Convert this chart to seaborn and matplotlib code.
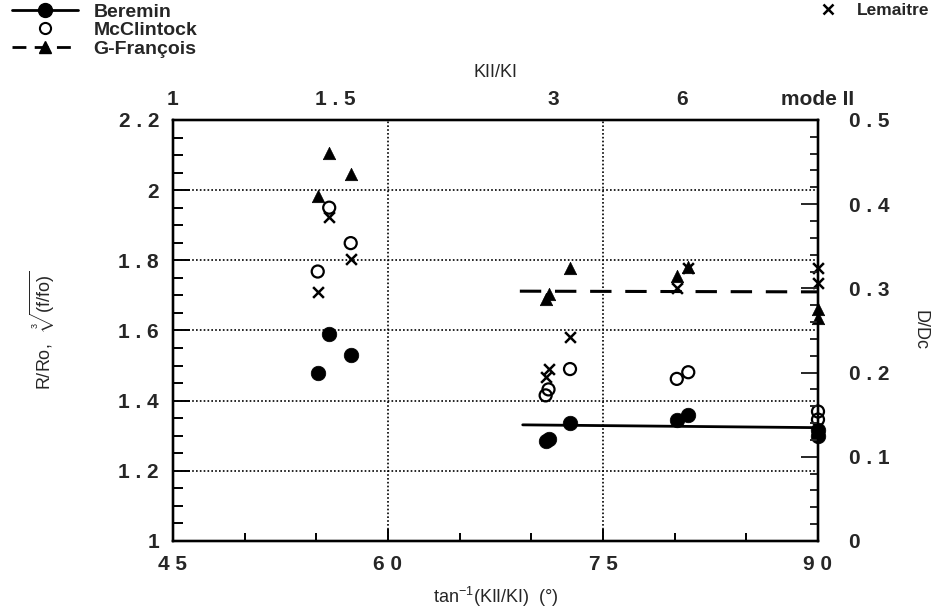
import numpy as np
import seaborn as sns
import matplotlib.pyplot as plt
from matplotlib.lines import Line2D
from matplotlib.ticker import MultipleLocator

# tan^-1(KII/KI) in degrees, R/Ro (or cube root of f/fo)
beremin_x = [55.1, 55.9, 57.4, 71.05, 71.2, 72.7, 80.15, 80.95, 90.0, 90.0]
beremin_y = [1.48, 1.59, 1.53, 1.285, 1.29, 1.335, 1.345, 1.36, 1.317, 1.298]

mcclintock_x = [55.1, 55.9, 57.4, 71.0, 71.2, 72.7, 80.15, 80.95, 90.0, 90.0]
mcclintock_y = [1.768, 1.95, 1.849, 1.415, 1.432, 1.49, 1.462, 1.481, 1.369, 1.346]

francois_x = [55.1, 55.9, 57.4, 71.05, 71.2, 72.7, 80.15, 80.95, 90.0, 90.0]
francois_y = [1.982, 2.105, 2.045, 1.69, 1.705, 1.779, 1.755, 1.78, 1.66, 1.636]

lemaitre_x = [55.1, 55.9, 57.4, 71.0, 71.2, 72.7, 80.15, 80.95, 90.0, 90.0]
lemaitre_y = [1.709, 1.922, 1.803, 1.467, 1.49, 1.582, 1.722, 1.779, 1.779, 1.736]

# D/Dc levels drawn as lines (in left-axis units)
beremin_line_x = [69.4, 90.0]
beremin_line_y = [1.331, 1.323]
francois_line_x = [69.2, 90.0]
francois_line_y = [1.712, 1.71]

# top axis: KII/KI ratios
ratio_values = [1.0, 1.5, 3.0, 6.0]
ratio_labels = ["1", "1 . 5", "3", "6", "mode II"]

bottom_ticks = [45, 60, 75, 90]
bottom_labels = ["4 5", "6 0", "7 5", "9 0"]
left_ticks = [1.0, 1.2, 1.4, 1.6, 1.8, 2.0, 2.2]
left_labels = ["1", "1 . 2", "1 . 4", "1 . 6", "1 . 8", "2", "2 . 2"]
right_ticks = [0, 0.1, 0.2, 0.3, 0.4, 0.5]
right_labels = ["0", "0 . 1", "0 . 2", "0 . 3", "0 . 4", "0 . 5"]

sns.set_style("ticks")
plt.rcParams["font.family"] = ["Liberation Sans", "DejaVu Sans"]
plt.rcParams["mathtext.fontset"] = "custom"
plt.rcParams["mathtext.rm"] = "Liberation Sans"
plt.rcParams["mathtext.it"] = "Liberation Sans"
plt.rcParams["axes.linewidth"] = 1.6

fig = plt.figure(figsize=(9.4, 6.13), dpi=100)
ax = fig.add_axes([0.184, 0.1175, 0.6862, 0.6868])

# dotted grid
ax.grid(True, which="major", color="black", linestyle=(0, (1, 1.3)), linewidth=1.2)

# trend lines
sns.lineplot(x=beremin_line_x, y=beremin_line_y, ax=ax, color="black", linewidth=2)
sns.lineplot(x=francois_line_x, y=francois_line_y, ax=ax, color="black",
             linewidth=2.2, linestyle=(0, (7, 4.5)))

# markers (points at 90 sit on the right spine)
sns.scatterplot(x=beremin_x, y=beremin_y, ax=ax, marker="o", s=110,
                color="black", edgecolor="black", linewidth=0.5, zorder=4, clip_on=False)
sns.scatterplot(x=mcclintock_x, y=mcclintock_y, ax=ax, marker="o", s=75,
                facecolor="none", edgecolor="black", linewidth=1.6, zorder=4, clip_on=False)
sns.scatterplot(x=francois_x, y=francois_y, ax=ax, marker="^", s=80,
                color="black", edgecolor="black", linewidth=0.5, zorder=4, clip_on=False)
sns.scatterplot(x=lemaitre_x, y=lemaitre_y, ax=ax, marker="x", s=60,
                color="black", linewidth=1.8, zorder=4, clip_on=False)

ax.set_xlim(45, 90)
ax.set_ylim(1.0, 2.2)
ax.set_xticks(bottom_ticks, bottom_labels, fontweight="bold")
ax.set_yticks(left_ticks, left_labels, fontweight="bold")
ax.xaxis.set_minor_locator(MultipleLocator(5))
ax.yaxis.set_minor_locator(MultipleLocator(0.05))
ax.tick_params(axis="both", which="both", direction="in", color="black",
               labelsize=15, width=1.4)
ax.tick_params(axis="x", which="major", length=9, top=True, pad=10)
ax.tick_params(axis="x", which="minor", length=6, top=True)
ax.tick_params(axis="y", which="major", length=12, right=False, pad=10)
ax.tick_params(axis="y", which="minor", length=7, right=False)
ax.set_xlabel(r"tan$^{-1}$(KII/KI)  (°)", fontsize=13, labelpad=8)
ax.set_ylabel(r"R/Ro,   $\sqrt[3]{\mathrm{(f/fo)}}$", fontsize=13, labelpad=44)

# right axis D/Dc
ax2 = ax.twinx()
ax2.set_ylim(0, 0.5)
ax2.set_yticks(right_ticks, right_labels, fontweight="bold")
ax2.yaxis.set_minor_locator(MultipleLocator(0.02))
ax2.tick_params(axis="y", which="both", direction="in", labelsize=15, width=1.4, pad=22)
ax2.tick_params(axis="y", which="major", length=12)
ax2.tick_params(axis="y", which="minor", length=6)
ax2.set_ylabel("D/Dc", fontsize=13, rotation=-90, labelpad=28)

# top axis KII/KI
ax3 = ax.twiny()
ax3.set_xlim(45, 90)
top_pos = list(np.degrees(np.arctan(ratio_values))) + [90.0]
ax3.set_xticks(top_pos, ratio_labels, fontweight="bold")
ax3.tick_params(axis="x", length=0, labelsize=15, pad=8)
ax3.set_xlabel("KII/KI", fontsize=13, labelpad=9)

for a in (ax, ax2, ax3):
    for sp in a.spines.values():
        sp.set_linewidth(1.6)
        sp.set_color("black")

# legends
handles = [
    Line2D([], [], color="black", lw=2, marker="o", markersize=10),
    Line2D([], [], color="black", lw=0, marker="o", markersize=8,
           markerfacecolor="none", markeredgewidth=1.5),
    Line2D([], [], color="black", lw=2, ls=(0, (5, 3)), marker="^", markersize=8),
]
fig.legend(handles, ["Beremin", "McClintock", "G-François"], loc="upper left",
           bbox_to_anchor=(0.0, 1.014), frameon=False,
           prop={"size": 14, "weight": "bold"},
           handlelength=3.4, handletextpad=0.8, labelspacing=0.05, borderaxespad=0.2)
fig.legend([Line2D([], [], color="black", lw=0, marker="x", markersize=7,
                   markeredgewidth=1.8)], ["Lemaitre"], loc="upper right",
           bbox_to_anchor=(1.0, 1.012), frameon=False,
           prop={"size": 12.5, "weight": "bold"},
           handlelength=1.5, handletextpad=0.9, borderaxespad=0.2)

fig.savefig("out.png", dpi=100)
